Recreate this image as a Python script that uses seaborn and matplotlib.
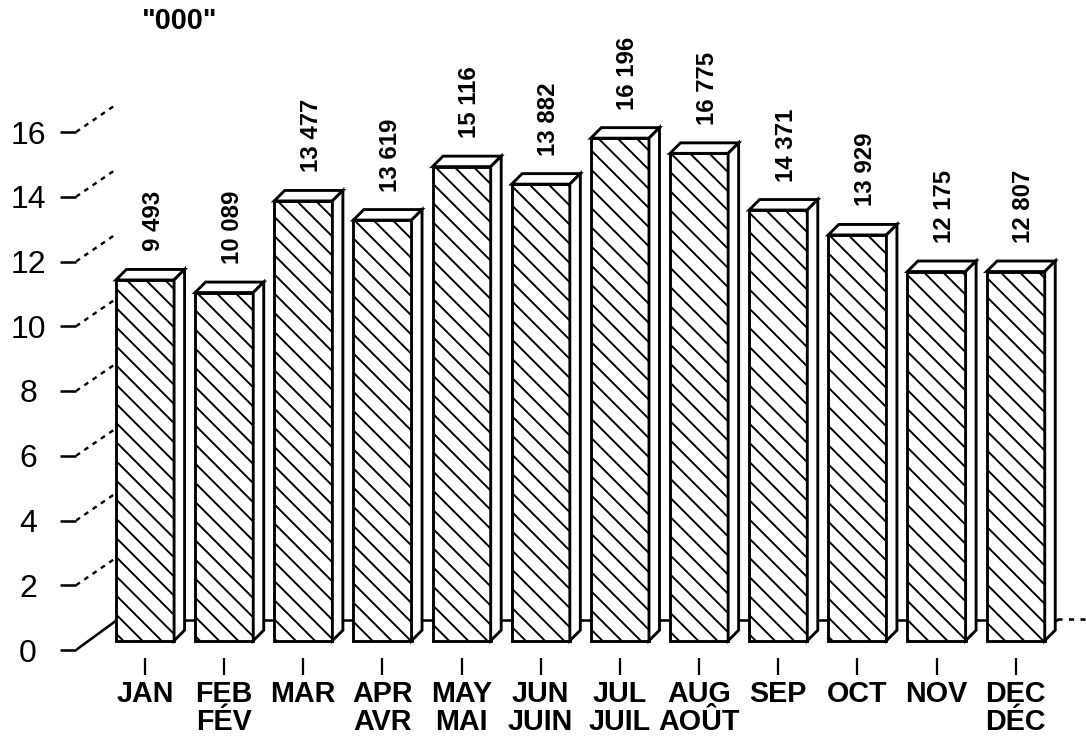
import matplotlib
matplotlib.use("Agg")
import matplotlib.pyplot as plt
import seaborn as sns
import pandas as pd
from matplotlib.patches import Polygon

# ---------------- data ----------------
months = ["JAN", "FEB\nFÉV", "MAR", "APR\nAVR", "MAY\nMAI", "JUN\nJUIN",
          "JUL\nJUIL", "AUG\nAOÛT", "SEP", "OCT", "NOV", "DEC\nDÉC"]
values = [9493, 10089, 13477, 13619, 15116, 13882, 16196, 16775, 14371, 13929, 12175, 12807]
# bar tops as drawn in the picture (front scale, thousands)
bar_tops = [11.43, 11.04, 13.87, 13.28, 14.93, 14.39, 15.81, 15.34, 13.59, 12.82, 11.69, 11.69]
yticks = [0, 2, 4, 6, 8, 10, 12, 14, 16]
unit_label = '"000"'

# ---------------- style ----------------
sns.set_theme(style="white")
plt.rcParams['font.family'] = ['Liberation Sans', 'DejaVu Sans']
plt.rcParams.update({'text.color': 'black', 'axes.labelcolor': 'black',
                     'xtick.color': 'black', 'ytick.color': 'black',
                     'hatch.linewidth': 1.2, 'hatch.color': 'black'})

W, H, DPI = 1086, 736, 115
fig = plt.figure(figsize=(W / DPI, H / DPI), dpi=DPI)
fig.patch.set_facecolor('white')
ax = fig.add_axes([76 / W, (H - 658) / H, (W - 76) / W, 658 / H])

PX_X, PX_Y = 79.15, 32.375
def xd(px):
    return (px - 145) / PX_X
def yd(py):
    return (650 - py) / PX_Y

base = yd(640.7)
df = pd.DataFrame({"month": months, "height": [t - base for t in bar_tops]})
sns.barplot(data=df, x="month", y="height", order=months, width=0.735,
            color="white", saturation=1, edgecolor="black", linewidth=1.8,
            hatch="\\\\", ax=ax, zorder=3)

dx3, dy3 = 10.5 / PX_X, 10.5 / PX_Y
for p, v in zip(ax.patches, values):
    h = p.get_height()
    p.set_y(base)
    x0 = p.get_x()
    x1 = x0 + p.get_width()
    top = base + h
    topface = Polygon([(x0, top), (x1, top), (x1 + dx3, top + dy3), (x0 + dx3, top + dy3)],
                      closed=True, facecolor='white', edgecolor='black', lw=1.8,
                      joinstyle='miter', zorder=4)
    side = Polygon([(x1, base), (x1, top), (x1 + dx3, top + dy3), (x1 + dx3, base + dy3)],
                   closed=True, facecolor='white', edgecolor='black', lw=1.8,
                   joinstyle='miter', zorder=4)
    ax.add_patch(topface)
    ax.add_patch(side)
    cx = x0 + p.get_width() / 2
    ax.text(cx + 8 / PX_X, top + dy3 + 18 / PX_Y, f"{v:,}".replace(",", " "),
            rotation=90, ha='center', va='bottom', fontsize=15,
            fontweight='bold', zorder=5)

# floor and perspective guides
ax.plot([xd(76), xd(115)], [0, yd(621.5)], color='black', lw=1.6, zorder=1,
        solid_capstyle='butt')
ax.plot([xd(115), xd(1057)], [yd(620), yd(620)], color='black', lw=1.6, zorder=1)
ax.plot([xd(1057), xd(1090)], [yd(619), yd(619)], color='black', lw=1.6,
        ls=(0, (2, 2.5)), zorder=1)
for v in yticks[1:]:
    ax.plot([xd(76), xd(114)], [v, v + 26 / PX_Y], color='black', lw=1.5,
            ls=(0, (2, 2.2)), zorder=1)

# axes
ax.set_xlim(xd(76), xd(W))
ax.set_ylim(yd(658), yd(0))
ax.set_yticks(yticks)
ax.set_yticklabels([str(v) for v in yticks], fontsize=20)
for lbl in ax.get_yticklabels():
    lbl.set_horizontalalignment('center')
ax.tick_params(axis='y', direction='out', length=10, width=1.6, pad=20, left=True)
ax.tick_params(axis='x', direction='out', length=10.6, width=1.4, pad=3,
               labelsize=18, bottom=True)
for lbl in ax.get_xticklabels():
    lbl.set_fontweight('bold')
    lbl.set_linespacing(1.0)
for s in ax.spines.values():
    s.set_visible(False)
ax.set_xlabel('')
ax.set_ylabel('')
ax.set_facecolor('white')

fig.text(142 / W, 1 - 21 / H, unit_label, fontsize=18, fontweight='bold',
         ha='left', va='center')

fig.savefig('out.png', dpi=DPI, facecolor='white')
